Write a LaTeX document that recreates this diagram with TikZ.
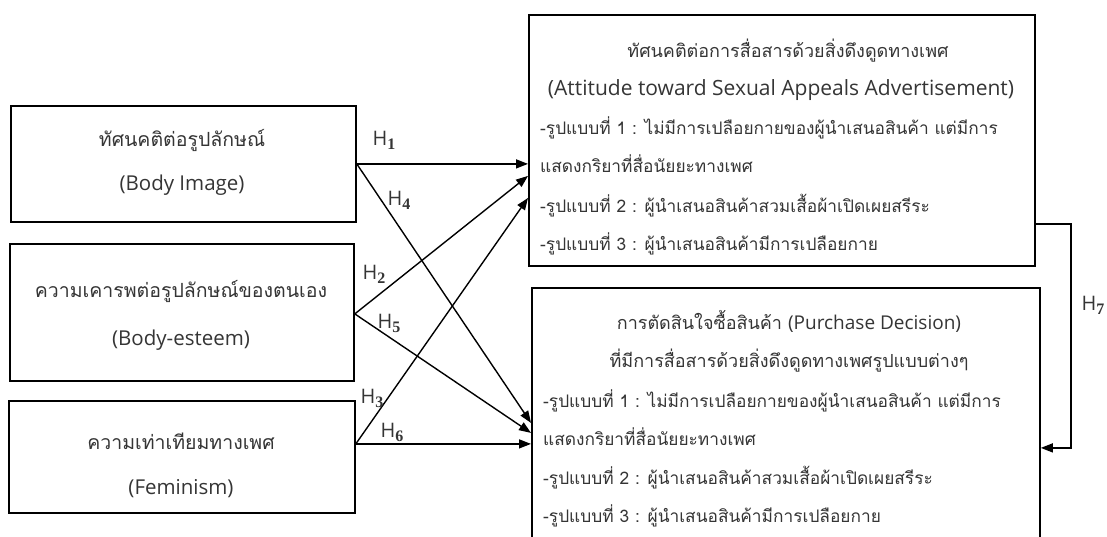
\documentclass[tikz,border=0pt]{standalone}
\usepackage{fontspec}
\setmainfont[Script=Thai]{Loma}
\newfontfamily\lat{Open Sans}
\newfontfamily\hsub{Liberation Serif}
\usetikzlibrary{arrows.meta}
\definecolor{txtc}{HTML}{353535}
\begin{document}
\begin{tikzpicture}[x=1pt,y=-1pt,
  box/.style={draw=black,line width=1.8pt,inner sep=0pt,anchor=north west},
  big/.style={font=\fontsize{19.5}{22}\selectfont,text=txtc,inner sep=0pt,anchor=base},
  head/.style={font=\fontsize{18}{20}\selectfont,text=txtc,inner sep=0pt,anchor=base},
  lst/.style={font=\fontsize{17.3}{20}\selectfont,text=txtc,inner sep=0pt,anchor=base west},
  hl/.style={text=txtc,inner sep=0pt,anchor=center},
  arr/.style={line width=1.4pt,-{Triangle[length=12pt,width=9pt]}}]
\newcommand{\hyp}[1]{{\lat\fontsize{20}{20}\selectfont H}\raisebox{-4pt}{\hsub\fontsize{16}{16}\selectfont\bfseries #1}}
\newcommand{\latin}[2]{{\lat\fontsize{#1}{#1}\selectfont #2}}
\useasboundingbox (0,0) rectangle (1107,536);
\clip (0,0) rectangle (1107,536);
\fill[white] (0,0) rectangle (1107,536);
% left boxes
\node[box,minimum width=345pt,minimum height=116pt] (b1) at (10,105) {};
\node[box,minimum width=344pt,minimum height=137pt] (b2) at (9,243) {};
\node[box,minimum width=346pt,minimum height=112pt] (b3) at (8,400) {};
\node[big] (b1a) at (182,146) {ทัศนคติต่อรูปลักษณ์};
\node[big] (b1b) at (182,190) {\latin{20.5}{(Body Image)}};
\node[big] (b2a) at (181,297) {ความเคารพต่อรูปลักษณ์ของตนเอง};
\node[big] (b2b) at (181,345) {\latin{20.5}{(Body-esteem)}};
\node[big] (b3a) at (181,449) {ความเท่าเทียมทางเพศ};
\node[big] (b3b) at (181,494) {\latin{20.5}{(Feminism)}};
% right boxes
\node[box,minimum width=506pt,minimum height=251pt] (t1) at (528,14) {};
\node[box,minimum width=508pt,minimum height=273pt] (t2) at (531,287) {};
\node[head] (t1a) at (788,57) {ทัศนคติต่อการสื่อสารด้วยสิ่งดึงดูดทางเพศ};
\node[head] (t1b) at (781,95) {\latin{21}{(Attitude toward Sexual Appeals Advertisement)}};
\node[lst] (t1c) at (540,134) {-รูปแบบที่ 1 : ไม่มีการเปลือยกายของผู้นำเสนอสินค้า แต่มีการ};
\node[lst] (t1d) at (540,172) {แสดงกริยาที่สื่อนัยยะทางเพศ};
\node[lst] (t1e) at (540,212) {-รูปแบบที่ 2 : ผู้นำเสนอสินค้าสวมเสื้อผ้าเปิดเผยสรีระ};
\node[lst] (t1f) at (540,250) {-รูปแบบที่ 3 : ผู้นำเสนอสินค้ามีการเปลือยกาย};
\node[head] (t2a) at (789,329) {การตัดสินใจซื้อสินค้า \latin{19}{(Purchase Decision)}};
\node[head] (t2b) at (789,367) {ที่มีการสื่อสารด้วยสิ่งดึงดูดทางเพศรูปแบบต่างๆ};
\node[lst] (t2c) at (543,407) {-รูปแบบที่ 1 : ไม่มีการเปลือยกายของผู้นำเสนอสินค้า แต่มีการ};
\node[lst] (t2d) at (543,445) {แสดงกริยาที่สื่อนัยยะทางเพศ};
\node[lst] (t2e) at (543,484) {-รูปแบบที่ 2 : ผู้นำเสนอสินค้าสวมเสื้อผ้าเปิดเผยสรีระ};
\node[lst] (t2f) at (543,522) {-รูปแบบที่ 3 : ผู้นำเสนอสินค้ามีการเปลือยกาย};
% connector end points
\coordinate (b2o) at ([yshift=-1.5pt]b2.east);
\coordinate (b3o) at ([yshift=13pt]b3.east);
% arrows
\draw[arr] (b1.east) -- (t1.west |- b1.east);
\draw[arr] (b2o) -- ([yshift=-35.5pt]t1.west);
\draw[arr] (b3o) -- ([yshift=-57.5pt]t1.west);
\draw[arr] (b1.east) -- ([yshift=1.5pt]t2.west);
\draw[arr] (b2o) -- ([yshift=-8.5pt]t2.west);
\draw[arr] (b3o) -- (t2.west |- b3o);
\draw[arr] ([yshift=-83.5pt]t1.east) -- ++(35,0) |- ([yshift=-23.5pt]t2.east);
% labels
\node[hl] (h1) at (384,140) {\hyp{1}};
\node[hl] (h4) at (399,200) {\hyp{4}};
\node[hl] (h2) at (374,274) {\hyp{2}};
\node[hl] (h5) at (389,323) {\hyp{5}};
\node[hl] (h3) at (372,398) {\hyp{3}};
\node[hl] (h6) at (392,432) {\hyp{6}};
\node[hl] (h7) at (1093,305) {\hyp{7}};
\end{tikzpicture}
\end{document}
